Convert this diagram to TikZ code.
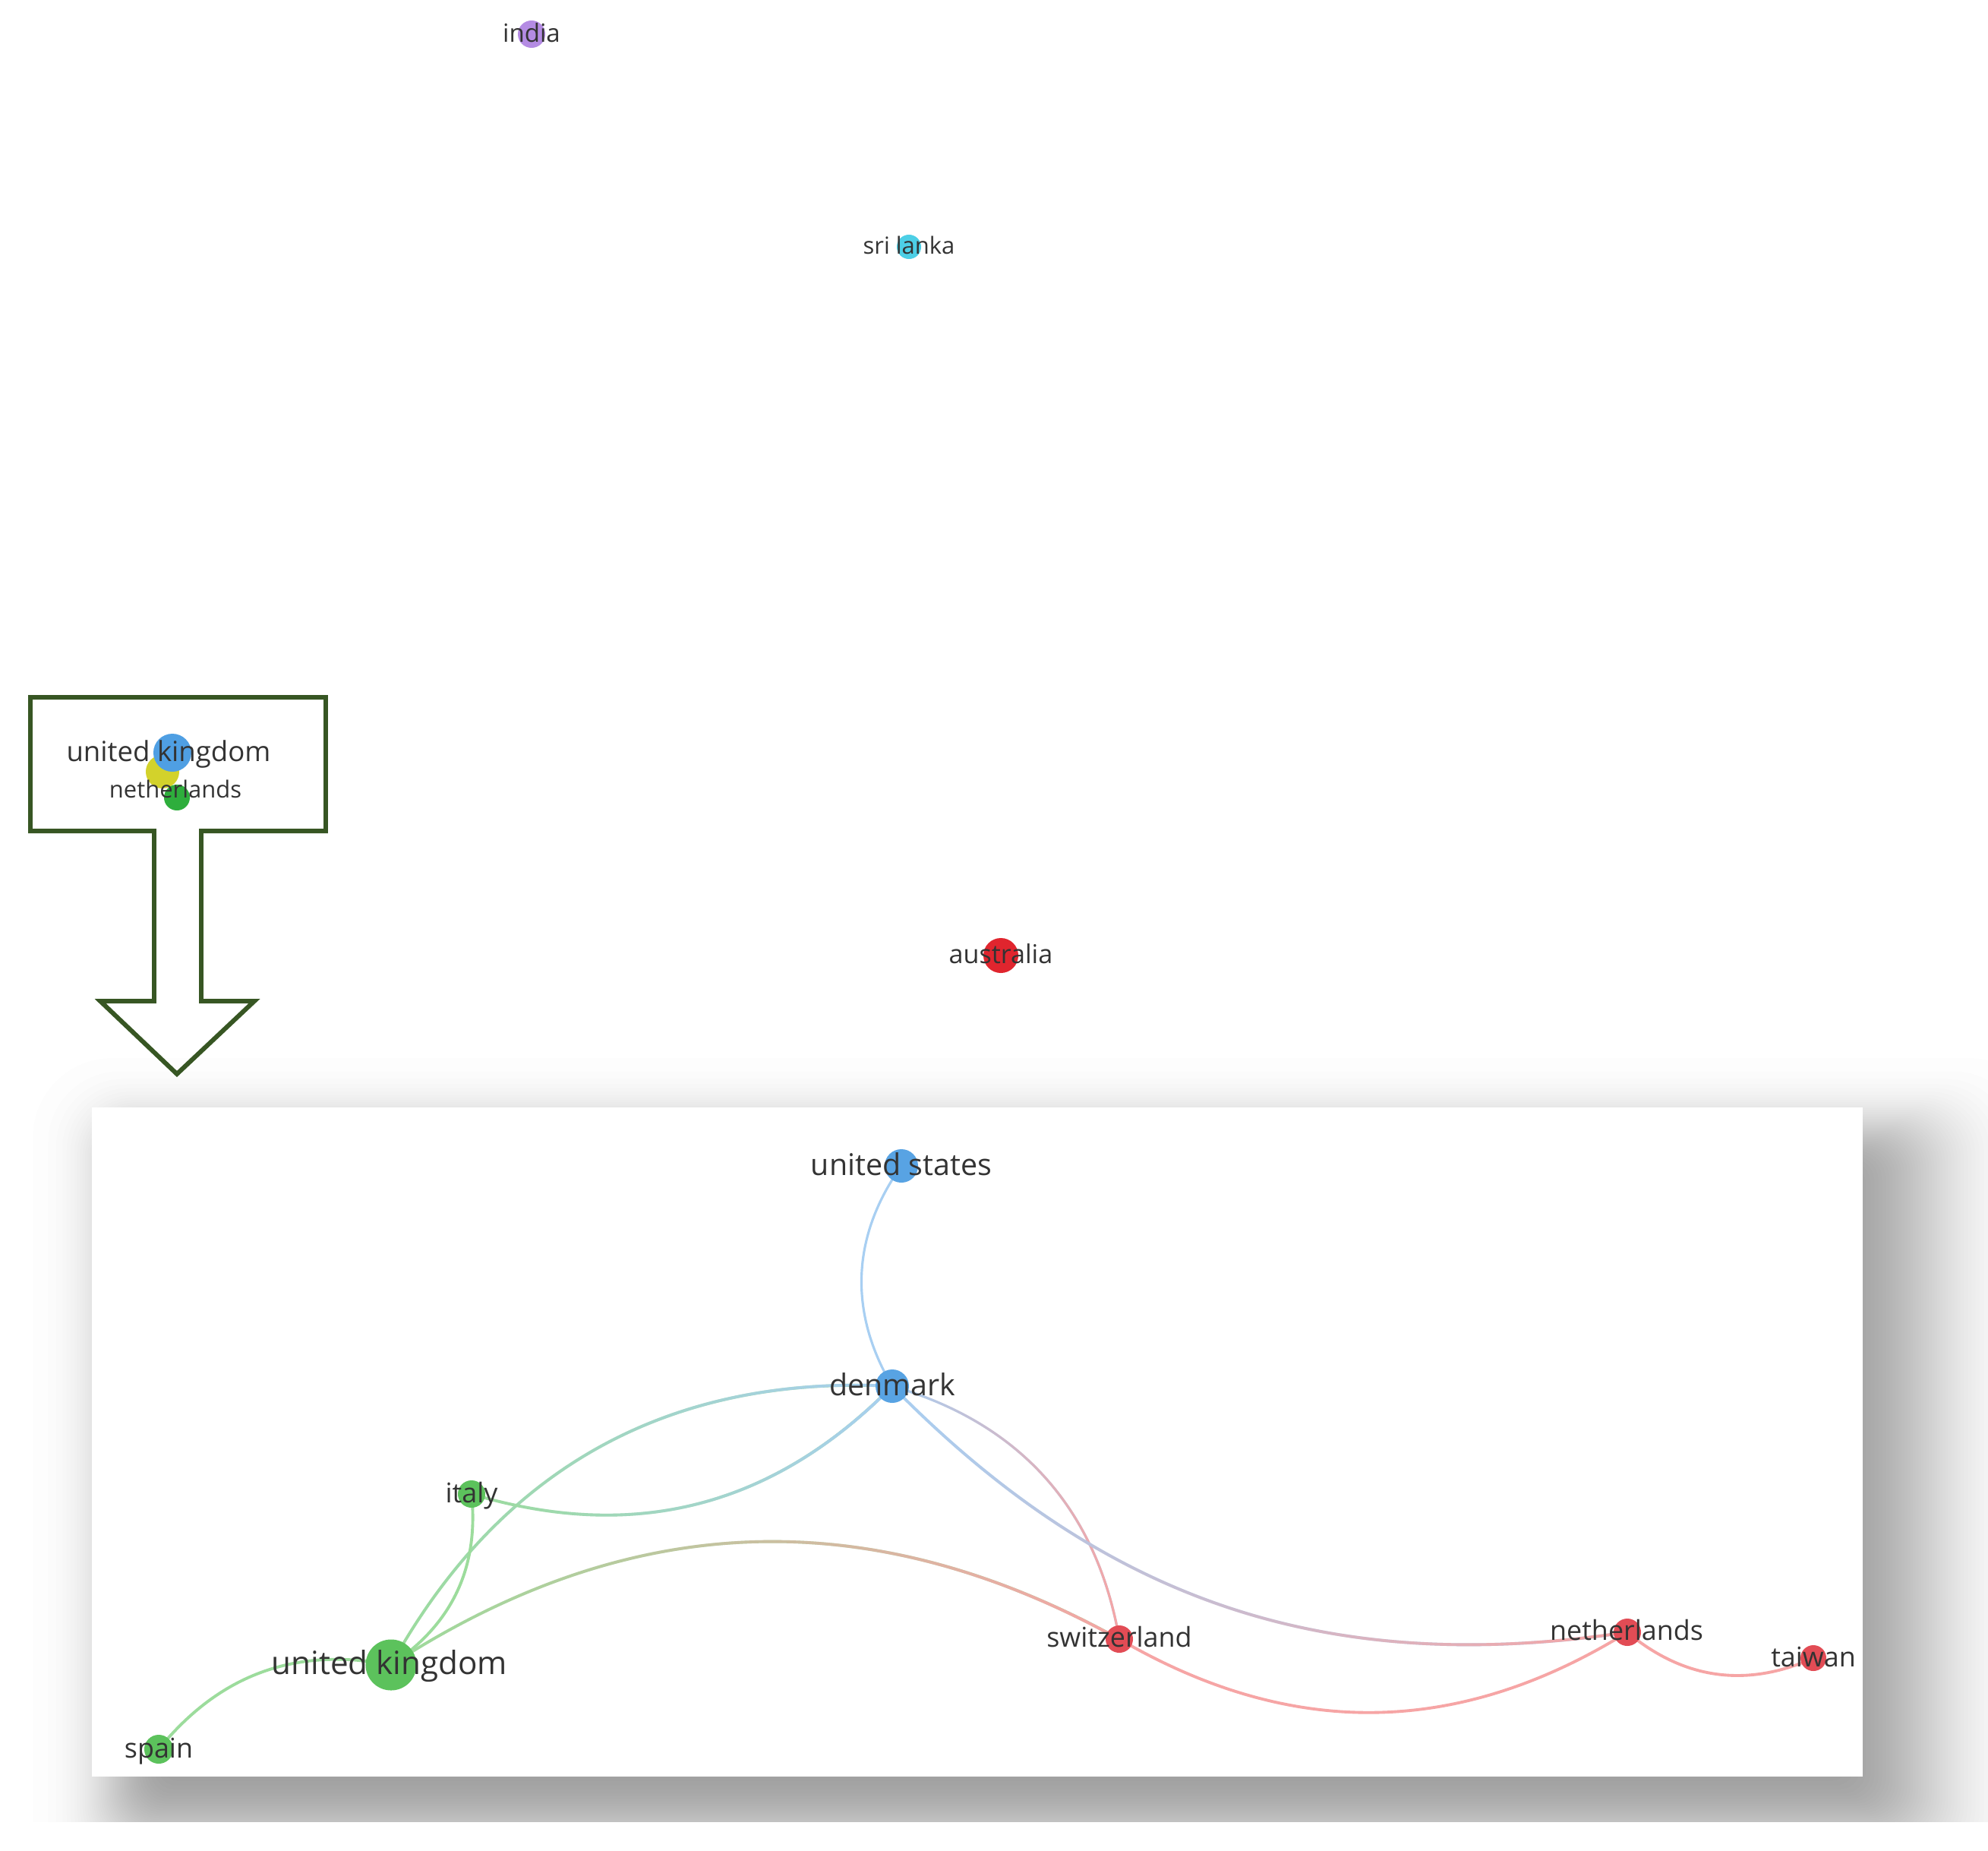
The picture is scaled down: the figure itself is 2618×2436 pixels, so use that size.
\documentclass[tikz,border=0pt]{standalone}
\usepackage{fontspec}
\setmainfont{Open Sans}
\usetikzlibrary{fadings}
\definecolor{vblue}{HTML}{58A3E3}
\definecolor{vgreen}{HTML}{5CC25C}
\definecolor{vred}{HTML}{E24C55}
\definecolor{ausred}{HTML}{E0252E}
\definecolor{vpurple}{HTML}{B48BE3}
\definecolor{vcyan}{HTML}{4DCFE6}
\definecolor{vyellow}{HTML}{D3D22B}
\definecolor{bblue}{HTML}{4F9FE3}
\definecolor{bgreen}{HTML}{2EAE3C}
\definecolor{eblue}{HTML}{A8CFF2}
\definecolor{egreen}{HTML}{9CDC9C}
\definecolor{ered}{HTML}{F6A5A5}
\definecolor{labgray}{HTML}{333333}
\definecolor{boxgreen}{HTML}{375623}
\tikzfading[name=fadeE, left color=transparent!100, right color=transparent!0]
\pgfdeclarelayer{bg}
\pgfdeclarelayer{edges}
\pgfsetlayers{bg,edges,main}
\newcommand\fsz[1]{\fontsize{#1}{#1}\selectfont}
\begin{document}
\begin{tikzpicture}[x=0.01cm, y=-0.01cm,
  vdot/.style={circle, inner sep=0pt, minimum size=#1, draw=none},
  lab/.style={anchor=base, inner sep=0pt, text=labgray},
  edge/.style={line width=1.1pt, line cap=round},
  boxline/.style={draw=boxgreen, line width=1.7pt, line join=miter}]
\useasboundingbox (0,0) rectangle (2618,2436);

% ---------- background, panel shadow and panel ----------
\begin{pgfonlayer}{bg}
\fill[white] (0,0) rectangle (2618,2436);
\begin{scope}
\clip (0,0) rectangle (2618,2398);
\foreach \k in {1,...,50} {
  \pgfmathsetmacro\p{(\k-0.5)/50}
  \pgfmathsetmacro\z{4.91*(\p^0.14-(1-\p)^0.14)}
  \pgfmathsetmacro\rr{max(3,(2.4-\z)*22)*0.2845}
  \pgfmathsetmacro\xa{148+45*\z}
  \pgfmathsetmacro\ya{1486+40*\z}
  \pgfmathsetmacro\xb{2535-70*\z}
  \pgfmathsetmacro\yb{2411-45*\z}
  \fill[black, fill opacity=0.0086, rounded corners=\rr pt] (\xa,\ya) rectangle (\xb,\yb);
}
\end{scope}
\fill[white] (121,1458) rectangle (2453,2339);
\end{pgfonlayer}

% ---------- upper isolated nodes ----------
\node[vdot=0.36cm, fill=vpurple] (in) at (700,45) {};
\node[lab, font=\fsz{9.4}] (in-l) at (700,55) {india};
\node[vdot=0.32cm, fill=vcyan] (lk) at (1197,325) {};
\node[lab, font=\fsz{8.8}] (lk-l) at (1197,334) {sri lanka};
\node[vdot=0.46cm, fill=ausred] (au) at (1318,1258) {};
\node[lab, font=\fsz{9.7}] (au-l) at (1318,1268) {australia};

% ---------- callout box with arrow ----------
\draw[boxline] (40,918) -- (429,918) -- (429,1094) -- (265,1094) -- (265,1318)
  -- (335,1318) -- (233,1414) -- (132,1318) -- (203,1318) -- (203,1094)
  -- (40,1094) -- cycle;
\node[vdot=0.44cm, fill=vyellow] (byl) at (214,1016) {};
\node[vdot=0.34cm, fill=bgreen] (bgr) at (233,1050) {};
\node[vdot=0.50cm, fill=bblue] (bbl) at (227,991) {};
\node[lab, font=\fsz{10.4}] (buk-l) at (222,1002) {united kingdom};
\node[lab, font=\fsz{8.8}] (bnl-l) at (231,1050) {netherlands};

% ---------- network nodes ----------
\node[vdot=0.44cm, fill=vblue] (us) at (1187,1535) {};
\node[vdot=0.44cm, fill=vblue] (dk) at (1175,1825) {};
\node[vdot=0.36cm, fill=vgreen] (it) at (621,1967) {};
\node[vdot=0.67cm, fill=vgreen] (uk) at (515,2192) {};
\node[vdot=0.38cm, fill=vgreen] (es) at (209,2303) {};
\node[vdot=0.36cm, fill=vred] (ch) at (1474,2158) {};
\node[vdot=0.36cm, fill=vred] (nl) at (2143,2149) {};
\node[vdot=0.34cm, fill=vred] (tw) at (2388,2183) {};

\node[lab, font=\fsz{11.2}] (us-l) at (1187,1547) {united states};
\node[lab, font=\fsz{11.2}] (dk-l) at (1175,1837) {denmark};
\node[lab, font=\fsz{10.2}] (it-l) at (621,1978) {italy};
\node[lab, font=\fsz{12}] (uk-l) at (513,2204) {united kingdom};
\node[lab, font=\fsz{10.2}] (es-l) at (209,2314) {spain};
\node[lab, font=\fsz{10.2}] (ch-l) at (1474,2168) {switzerland};
\node[lab, font=\fsz{10.2}] (nl-l) at (2142,2159) {netherlands};
\node[lab, font=\fsz{10.2}] (tw-l) at (2388,2194) {taiwan};

% ---------- links ----------
\begin{pgfonlayer}{edges}
\draw[edge, eblue, line width=0.9pt] (us.center) to[bend right=33] (dk.center);
\draw[edge, egreen] (dk.center) to[bend right=32] (uk.center);
\draw[edge, eblue, path fading=fadeE] (dk.center) to[bend right=32] (uk.center);
\draw[edge, egreen] (dk.center) to[bend left=31] (it.center);
\draw[edge, eblue, path fading=fadeE] (dk.center) to[bend left=31] (it.center);
\draw[edge, egreen] (it.center) to[bend left=31] (uk.center);
\draw[edge, egreen] (uk.center) to[bend left=31] (ch.center);
\draw[edge, ered, path fading=fadeE] (uk.center) to[bend left=31] (ch.center);
\draw[edge, eblue, line width=0.9pt] (dk.center) to[bend left=32] (ch.center);
\draw[edge, ered, line width=0.9pt, path fading=fadeE] (dk.center) to[bend left=32] (ch.center);
\draw[edge, eblue] (dk.center) to[bend right=27] (nl.center);
\draw[edge, ered, path fading=fadeE] (dk.center) to[bend right=27] (nl.center);
\draw[edge, ered] (ch.center) to[bend right=31] (nl.center);
\draw[edge, ered] (nl.center) to[bend right=32] (tw.center);
\draw[edge, egreen] (uk.center) to[bend right=31] (es.center);
\end{pgfonlayer}
\end{tikzpicture}
\end{document}
